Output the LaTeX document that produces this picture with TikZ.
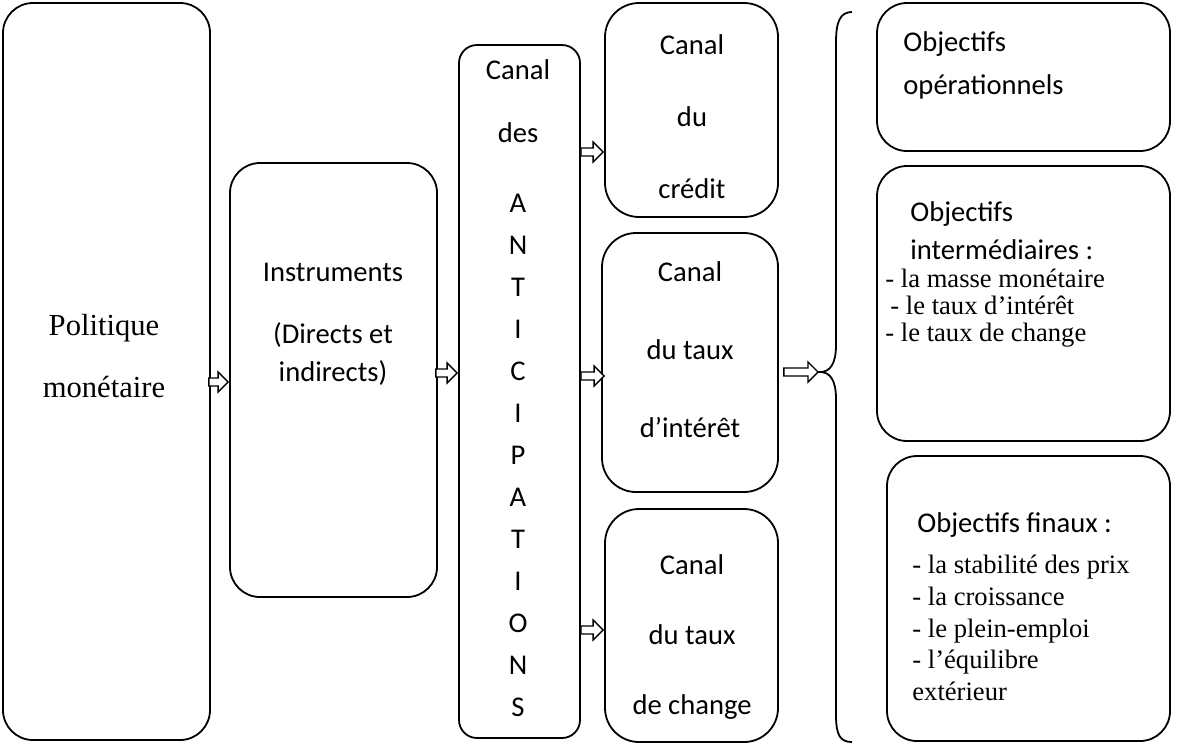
\documentclass[tikz,border=0pt]{standalone}
\usepackage{fontspec}
\setmainfont{Liberation Serif}
\newfontfamily\calibri{Carlito}
\usetikzlibrary{calc,fit}

% font with a given line distance
\newcommand{\calfont}[1]{\calibri\fontsize{14.3}{#1}\selectfont}
\newcommand{\romfont}[1]{\fontsize{13.3}{#1}\selectfont}

\tikzset{
  box/.style={draw, line width=0.9pt, rounded corners=15pt, inner sep=0pt},
  txt/.style={inner sep=0pt, align=center},
  hollow/.style={draw, line width=0.7pt, fill=white, line join=miter, to path={
    let \p1=(\tikztostart), \p2=(\tikztotarget) in
    (\x1,\y1+2pt) -- (\x2-5pt,\y1+2pt) -- (\x2-5pt,\y1+5pt) -- (\x2,\y1)
    -- (\x2-5pt,\y1-5pt) -- (\x2-5pt,\y1-2pt) -- (\x1,\y1-2pt) -- cycle}}
}

\begin{document}
\begin{tikzpicture}[x=0.5pt,y=-0.5pt]
\useasboundingbox (0,0) rectangle (1181,745);

% boxes
\node[box, fit={(3,3) (210,740)}] (pol) {};
\node[box, fit={(230,163) (437,597)}] (instr) {};
\node[box, rounded corners=9pt, fit={(459,45) (580,738)}] (antic) {};
\node[box, rounded corners=17pt, fit={(605,3) (778,217)}] (credit) {};
\node[box, rounded corners=17pt, fit={(602,233) (778,492)}] (interet) {};
\node[box, rounded corners=17pt, fit={(605,509) (778,742)}] (change) {};
\node[box, fit={(877,3) (1170,151)}] (opera) {};
\node[box, fit={(877,166) (1170,441)}] (inter) {};
\node[box, fit={(887,456) (1170,741)}] (finaux) {};

% texts
\node[txt, font=\fontsize{15.3}{31pt}\selectfont] (pol-t) at (104,356) {Politique\\monétaire};
\node[txt, font=\calfont{17pt}] (instr-t1) at (333,272) {Instruments};
\node[txt, font=\calfont{19pt}] (instr-t2) at (333,354) {(Directs et\\indirects)};
\node[txt, font=\calfont{31.5pt}] (antic-t1) at (518,101) {Canal\\des};
\node[txt, font=\calfont{21pt}] (antic-t2) at (518,455)
  {A\\N\\T\\I\\C\\I\\P\\A\\T\\I\\O\\N\\S};
\node[txt, font=\calfont{36pt}] (credit-t) at (692,117) {Canal\\du\\crédit};
\node[txt, font=\calfont{39pt}] (interet-t) at (690,350) {Canal\\du taux\\d’intérêt};
\node[txt, font=\calfont{35pt}] (change-t) at (692,637) {Canal\\du taux\\de change};
\node[txt, align=left, anchor=west, font=\calfont{21.5pt}] (opera-t) at (903,65)
  {Objectifs\\opérationnels};
\node[txt, align=left, anchor=west, font=\calfont{19pt}] (inter-t1) at (910,231)
  {Objectifs\\intermédiaires :};
\node[txt, align=left, anchor=west, font=\romfont{13.5pt}] (inter-t2) at (885,308)
  {- la masse monétaire\\\hspace{2.5pt}- le taux d’intérêt\\- le taux de change};
\node[txt, anchor=west, font=\calfont{17pt}] (finaux-t1) at (917,525) {Objectifs finaux :};
\node[txt, align=left, anchor=west, font=\romfont{15.9pt}] (finaux-t2) at (912,628)
  {- la stabilité des prix\\- la croissance\\- le plein-emploi\\- l’équilibre\\extérieur};

% brace
\coordinate (brace-tip) at (820,372);
\draw[line width=0.9pt] (852,12) .. controls (840,12) and (836,22) .. (836,42) -- (836,345)
  .. controls (836,364) and (830,372) .. (brace-tip)
  .. controls (830,372) and (836,380) .. (836,399) -- (836,715)
  .. controls (836,735) and (840,742) .. (852,742);

% arrows
\draw[hollow] ($(pol.east |- 0,382)+(-2,0)$) to ($(instr.west |- 0,382)+(-1,0)$);
\draw[hollow] ($(instr.east |- 0,373)+(-2,0)$) to ($(antic.west |- 0,373)+(-1,0)$);
\draw[hollow] (antic.east |- 0,152) to ($(credit.west |- 0,152)+(-1,0)$);
\draw[hollow] (antic.east |- 0,376) to ($(interet.west |- 0,376)+(3,0)$);
\draw[hollow] (antic.east |- 0,630) to ($(change.west |- 0,630)+(-1,0)$);
\draw[hollow] ($(interet.east |- brace-tip)+(5,0)$) to ($(brace-tip)+(-2,0)$);
\end{tikzpicture}
\end{document}
